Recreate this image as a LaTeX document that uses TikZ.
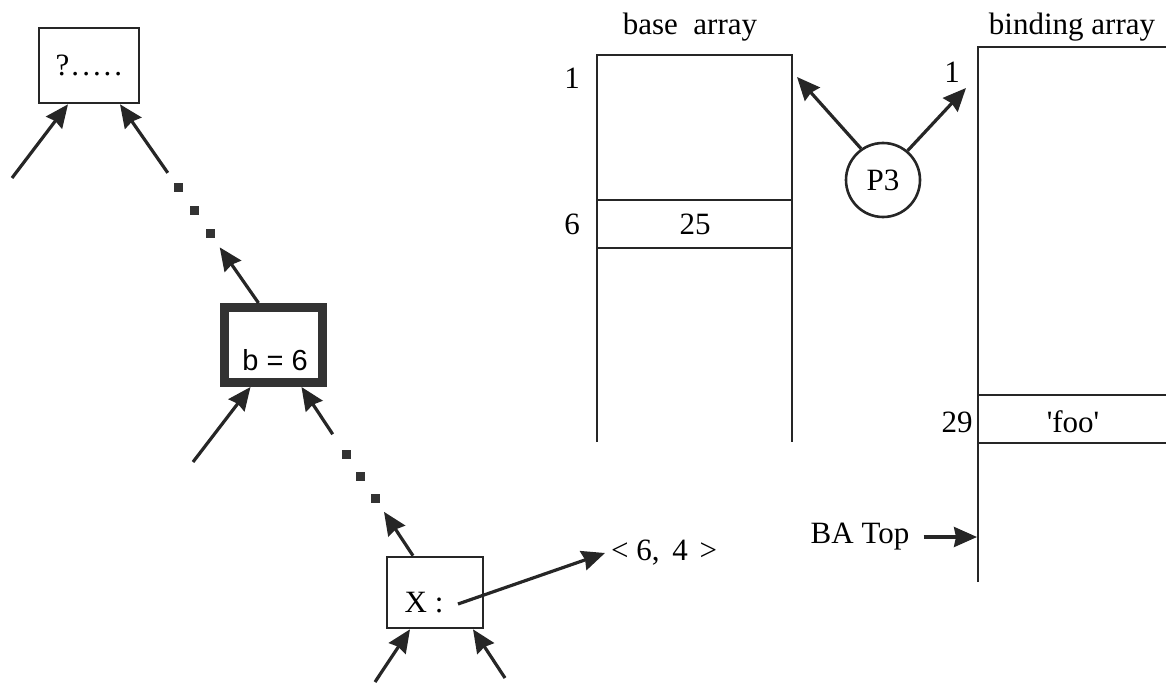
\documentclass[tikz,border=0pt]{standalone}
\usepackage{fontspec}
\setmainfont{Liberation Serif}
\newfontfamily\boxsans{Liberation Sans}
\usetikzlibrary{arrows.meta,positioning,calc}

\begin{document}
\begin{tikzpicture}[x=1pt, y=-1pt,
  font=\fontsize{31}{36}\selectfont,
  every node/.style={inner sep=2pt},
  ink/.style={draw=black!85, line width=2.6pt},
  cell/.style={ink, rectangle, minimum width=100pt, minimum height=75pt, inner sep=0pt},
  frame/.style={draw=black!80, line width=9pt, rectangle, minimum width=98pt,
    minimum height=75pt, inner sep=0pt},
  ptr/.style={draw=black!85, line width=3.2pt, -{Stealth[length=23pt, width=20pt, inset=2pt]}},
  sq/.style={fill=black!80, minimum size=9pt, inner sep=0pt},
]
  \useasboundingbox (0,0) rectangle (1166,687);

  % Chain of frames: top goal, b = 6, X
  \node[cell] (q) at (89,65.5) {?\kern2pt.\kern3pt.\kern3pt.\kern3pt.\kern3pt.};
  \node[frame] (b6) at (273.5,345) {};
  \node[font=\boxsans\fontsize{29}{34}\selectfont] (b6lab) at ([xshift=1.5pt, yshift=-15pt]b6.center) {b = 6};
  \node[cell, minimum width=96pt, minimum height=71pt] (x) at (435,592.5) {};
  \node (xlab) at ([xshift=-11pt, yshift=-10.5pt]x.center) {X :};
  \node[anchor=west, inner sep=6pt] (tup) at (605,553) {< 6,\kern5pt\ 4\kern4pt\ >};

  % Attachment points on the frames
  \coordinate (qinl) at ([xshift=-21pt]q.south);
  \coordinate (qinr) at ([xshift=31pt]q.south);
  \coordinate (b6up) at ([xshift=-15pt]b6.north);
  \coordinate (b6inl) at ([xshift=-23pt]b6.south);
  \coordinate (b6inr) at ([xshift=28pt]b6.south);
  \coordinate (xup) at ([xshift=-22pt]x.north);
  \coordinate (xinl) at ([xshift=-25pt]x.south);
  \coordinate (xinr) at ([xshift=38pt]x.south);
  \coordinate (xout) at ([xshift=23pt, yshift=-11.5pt]x.center);

  % Free ends of the other branches
  \coordinate (qtl) at (12,178);
  \coordinate (b6tl) at (193,462);
  \coordinate (xtl) at (375,682);
  \coordinate (xtr) at (505,678);
  \foreach \t/\h in {qtl/qinl, b6tl/b6inl, xtl/xinl, xtr/xinr}
    \draw[ptr] (\t) -- (\h);

  % Dotted links: b = 6 up to the goal, X up to b = 6
  \draw[ptr] (b6up) -- ($(b6up)!0.28!(qinr)$);
  \foreach \t [count=\i] in {0.35,0.465,0.58}
    \node[sq] (dq\i) at ($(b6up)!\t!(qinr)$) {};
  \draw[ptr] ($(b6up)!0.655!(qinr)$) -- (qinr);

  \draw[ptr] (xup) -- ($(xup)!0.26!(b6inr)$);
  \foreach \t [count=\i] in {0.34,0.47,0.6}
    \node[sq] (db\i) at ($(xup)!\t!(b6inr)$) {};
  \draw[ptr] ($(xup)!0.72!(b6inr)$) -- (b6inr);

  \draw[ptr] (xout) -- (tup.west);

  % Base array
  \draw[ink] (597,442) -- (597,55) -- (792,55) -- (792,442);
  \draw[ink] (597,200) -- (792,200) (597,248) -- (792,248);
  \node (basetitle) at (690,27) {base\ \ array};
  \node (baseone) at (572,78) {1};
  \node (basesix) at (572,224) {6};
  \node (basecell) at (695,224) {25};

  % Binding array
  \draw[ink] (978,582) -- (978,47) -- (1166,47);
  \draw[ink] (978,395) -- (1166,395) (978,443) -- (1166,443);
  \node (bindtitle) at (1072,27) {binding array};
  \node (bindone) at (952,72) {1};
  \node (bindrow) at (957,422) {29};
  \node (bindcell) at (1073,422) {\textquotesingle foo\textquotesingle};
  \node (batop) at (860,537) {BA Top};
  \coordinate (bacol) at (977,537);
  \draw[ptr] ([xshift=12pt]batop.east) -- (bacol);

  % Process P3 points into both arrays
  \node[circle, ink, minimum size=74pt, inner sep=0pt] (p3) at (883,180) {P3};
  \coordinate (baseR) at (797,77);
  \coordinate (bindL) at (966,88);
  \draw[ptr] (p3.125) -- (baseR);
  \draw[ptr] (p3.50) -- (bindL);
\end{tikzpicture}
\end{document}
